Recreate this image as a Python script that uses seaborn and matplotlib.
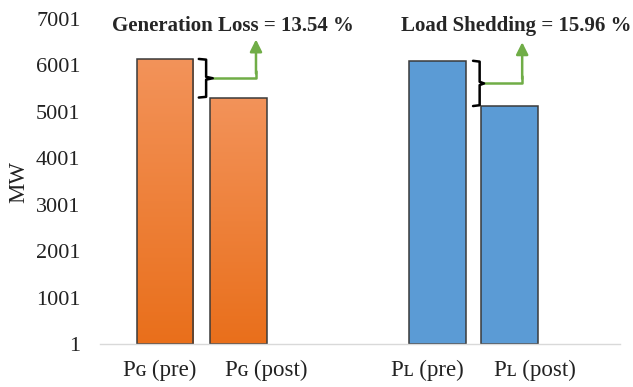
import numpy as np
import pandas as pd
import matplotlib
matplotlib.use("Agg")
import matplotlib.pyplot as plt
import seaborn as sns
from matplotlib.colors import LinearSegmentedColormap

# ---- data ----
categories = ["P\u0262 (pre)", "P\u0262 (post)", "P\u029f (pre)", "P\u029f (post)"]
groups = ["Generation", "Generation", "Load", "Load"]
values = [6140, 5309, 6100, 5126]
x_pos = [0.0, 1.0, 3.72, 4.7]
y_ticks = [1, 1001, 2001, 3001, 4001, 5001, 6001, 7001]
gen_label = "Generation Loss = 13.54 %"
load_label = "Load Shedding = 15.96 %"

# label placement (layout only)
label_pos = [-0.08, 1.38, 3.58, 5.05]

df = pd.DataFrame({"x": x_pos, "MW": values, "group": groups})

sns.set_theme(style="white")
plt.rcParams["font.family"] = ["Liberation Serif", "DejaVu Serif"]

fig = plt.figure(figsize=(6.33, 3.87), dpi=100)
ax = fig.add_axes([0.158, 0.111, 0.821, 0.840])

sns.barplot(data=df, x="x", y="MW", hue="group", native_scale=True, dodge=False,
            palette={"Generation": "#EE7E34", "Load": "#5B9BD5"}, saturation=1,
            width=0.79, edgecolor="#3A3A3A", linewidth=1.1, legend=False, ax=ax)

# gradient on orange bars
cmap = LinearSegmentedColormap.from_list("og", ["#E96F1B", "#F3935A"])
grad = np.linspace(0, 1, 256).reshape(-1, 1)
for p in ax.patches:
    if p.get_facecolor()[2] < 0.4:
        x0, y0 = p.get_x(), p.get_y()
        w, h = p.get_width(), p.get_height()
        im = ax.imshow(grad, extent=[x0, x0 + w, y0, y0 + h], origin="lower",
                       cmap=cmap, aspect="auto", zorder=p.get_zorder() - 0.1)
        im.set_clip_path(p)
        p.set_facecolor("none")
        p.set_zorder(p.get_zorder() + 0.2)

ax.set_xlim(-0.887, 6.2)
ax.set_ylim(1, 7001)
ax.set_yticks(y_ticks)
ax.set_yticklabels([str(t) for t in y_ticks], fontsize=16, color="#222222")
ax.set_xticks(label_pos)
ax.set_xticklabels(categories, fontsize=16.5, color="#222222")
ax.tick_params(axis="y", length=0, pad=14)
ax.tick_params(axis="x", length=0, pad=11)
ax.set_ylabel("MW", fontsize=16.5, labelpad=5, color="#222222")
ax.set_xlabel("")
for s in ["top", "right", "left"]:
    ax.spines[s].set_visible(False)
ax.spines["bottom"].set_color("#D9D9D9")
ax.spines["bottom"].set_linewidth(1.0)

green = "#70AD47"

def bracket(x_arm, x_vert, x_tip, top, bot, x_arrow, y_arrow):
    mid = (top + bot) / 2
    d = (top - bot) * 0.06
    ax.plot([x_arm, x_vert, x_vert, x_tip, x_vert, x_vert, x_arm],
            [top, top - d * 0.3, mid + d * 0.6, mid, mid - d * 0.6, bot + d * 0.3, bot],
            color="black", lw=1.8, solid_joinstyle="round", zorder=5)
    ax.plot([x_tip, x_arrow, x_arrow], [mid, mid, mid + 150], color=green, lw=1.8, zorder=4)
    ax.annotate("", xy=(x_arrow, y_arrow), xytext=(x_arrow, mid + 100),
                arrowprops=dict(arrowstyle="-|>,head_length=0.6,head_width=0.3",
                                color=green, lw=1.8, shrinkA=0, shrinkB=0),
                annotation_clip=False)

bracket(0.46, 0.56, 0.65, values[0], values[1], 1.24, 6560)
bracket(4.20, 4.29, 4.35, values[2], values[3], 4.87, 6500)

ax.text(0.92, 6840, gen_label, ha="center", va="center", fontsize=15,
        fontweight="bold", clip_on=False)
ax.text(4.79, 6840, load_label, ha="center", va="center", fontsize=15,
        fontweight="bold", clip_on=False)

fig.savefig("out.png", dpi=100)
